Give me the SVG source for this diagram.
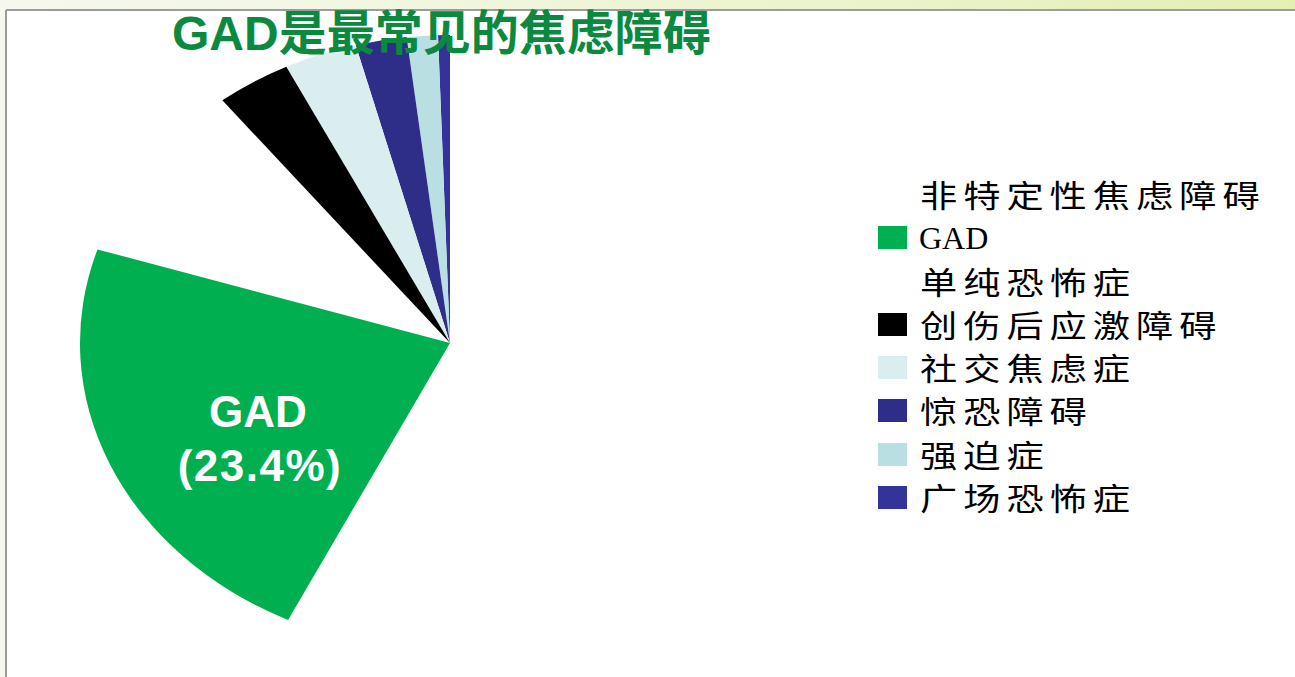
<svg xmlns="http://www.w3.org/2000/svg" width="1295" height="677" viewBox="0 0 1295 677">
  <defs>
    <linearGradient id="bg" x1="0" y1="0" x2="1" y2="0">
      <stop offset="0" stop-color="#f6f8f0"/>
      <stop offset="0.5" stop-color="#eef5d6"/>
      <stop offset="1" stop-color="#e4efb4"/>
    </linearGradient>
    <style>
      .title { font-family: "Liberation Sans", Arial, "Noto Sans CJK SC", sans-serif; font-weight: bold; font-size: 48px; fill: #0b8a3f; }
      .lbl { font-family: "Liberation Sans", Arial, sans-serif; font-weight: bold; font-size: 44px; fill: #ffffff; text-anchor: middle; }
      .leg { font-family: "Noto Sans CJK SC", sans-serif; font-size: 31px; letter-spacing: 5px; fill: #000000; }
      .legLat { font-family: "Liberation Serif", "Times New Roman", serif; font-size: 32px; fill: #000000; }
    </style>
  </defs>

  <!-- background -->
  <rect x="0" y="0" width="1295" height="677" fill="url(#bg)"/>
  <rect x="7" y="11" width="1288" height="666" fill="#ffffff"/>
  <line x1="6" y1="10" x2="1295" y2="10" stroke="#9c9c9c" stroke-width="2"/>
  <line x1="6" y1="10" x2="6" y2="677" stroke="#9c9c9c" stroke-width="2"/>

  <!-- pie -->
  <g id="pie">
    <path id="slice-agoraphobia" d="M450,343 L450,35 A370,308 0 0 0 438,35.2 Z" fill="#333399"/>
    <path id="slice-ocd" d="M450,343 L438,35.2 A370,308 0 0 0 406.6,37.1 Z" fill="#b9dfe2"/>
    <path id="slice-panic" d="M450,343 L406.6,37.1 A370,308 0 0 0 355.7,45.2 Z" fill="#2e2d88"/>
    <path id="slice-social" d="M450,343 L355.7,45.2 A370,308 0 0 0 286.3,66.7 Z" fill="#daedef"/>
    <path id="slice-ptsd" d="M450,343 L286.3,66.7 A370,308 0 0 0 222.3,100.3 Z" fill="#000000"/>
    <path id="slice-gad" d="M450,343 L97.5,249.4 A370,308 0 0 0 288.1,620 Z" fill="#00b050"/>
  </g>

  <g id="gad-label">
    <text class="lbl" x="258" y="427">GAD</text>
    <text class="lbl" x="260" y="481" letter-spacing="1.5">(23.4%)</text>
  </g>

  <g id="title">
    <text class="title" x="172" y="50">GAD是最常见的焦虑障碍</text>
  </g>

  <!-- legend -->
  <g id="legend">
    <g id="legend-swatches">
      <rect x="878" y="226" width="29" height="23" fill="#00b050"/>
      <rect x="878" y="313" width="29" height="23" fill="#000000"/>
      <rect x="878" y="356" width="29" height="23" fill="#daedef"/>
      <rect x="878" y="399" width="29" height="23" fill="#2e2d88"/>
      <rect x="878" y="443" width="29" height="23" fill="#b9dfe2"/>
      <rect x="878" y="486" width="29" height="23" fill="#333399"/>
    </g>
    <text class="legLat" x="919" y="249">GAD</text>
    <g transform="scale(1.2,1)">
      <text class="leg" x="766.7" y="207">非特定性焦虑障碍</text>
      <text class="leg" x="766.7" y="294">单纯恐怖症</text>
      <text class="leg" x="766.7" y="337">创伤后应激障碍</text>
      <text class="leg" x="766.7" y="380">社交焦虑症</text>
      <text class="leg" x="766.7" y="423">惊恐障碍</text>
      <text class="leg" x="766.7" y="467">强迫症</text>
      <text class="leg" x="766.7" y="510">广场恐怖症</text>
    </g>
  </g>
</svg>
